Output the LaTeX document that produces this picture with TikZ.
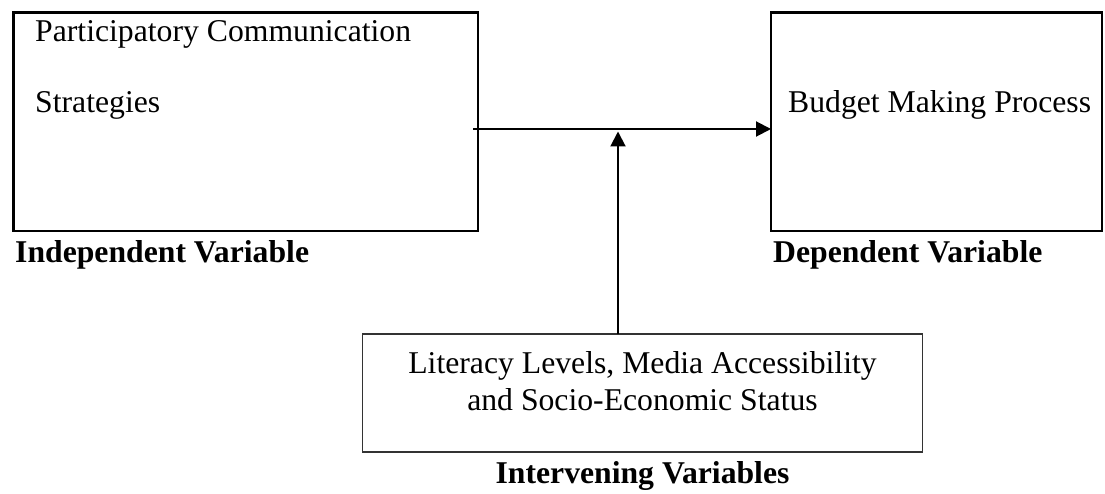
\documentclass[tikz,border=0pt]{standalone}
\usepackage{fontspec}
\setmainfont{Liberation Serif}
\usetikzlibrary{arrows.meta}
\begin{document}
\begin{tikzpicture}[x=1pt,y=-1pt,
  bigbox/.style={draw=black,line width=2.7pt,inner sep=0pt,outer sep=0pt},
  smallbox/.style={draw=black!80,line width=1.3pt,inner sep=0pt,outer sep=0pt},
  txt/.style={font=\fontsize{31.7}{38}\selectfont,inner sep=0pt},
  btxt/.style={font=\fontsize{31.7}{38}\selectfont\bfseries,inner sep=0pt},
  conn/.style={line width=2pt,-{Triangle[length=15pt,width=15pt]}}]
\useasboundingbox (0,0) rectangle (1105,494);
% boxes
\node[bigbox, minimum width=464.5pt, minimum height=218.5pt] (ind) at (245.75,121.75) {};
\node[bigbox, minimum width=331pt, minimum height=218.5pt] (dep) at (936.5,121.75) {};
\node[smallbox, minimum width=560pt, minimum height=118pt] (int) at (642.5,393) {};
% texts
\node[txt, anchor=base west] (t1) at (35,42) {Participatory Communication};
\node[txt, anchor=base west] (t2) at (35,113) {Strategies};
\node[txt, anchor=base west] (t3) at (788,113) {Budget Making Process};
\node[txt, anchor=base] (t4) at (642.5,373) {Literacy Levels, Media Accessibility};
\node[txt, anchor=base] (t5) at (642.5,410) {and Socio-Economic Status};
\node[btxt, anchor=base west] (l1) at (15,262) {Independent Variable};
\node[btxt, anchor=base west] (l2) at (773,262) {Dependent Variable};
\node[btxt, anchor=base] (l3) at (642.5,483) {Intervening Variables};
% connectors
\coordinate (hs) at (473,129);
\coordinate (he) at (dep.west |- hs);
\draw[conn] (hs) -- (he);
\coordinate (vs) at (618,334);
\coordinate (ve) at (618,131.5);
\draw[conn] (vs) -- (ve);
\end{tikzpicture}
\end{document}
